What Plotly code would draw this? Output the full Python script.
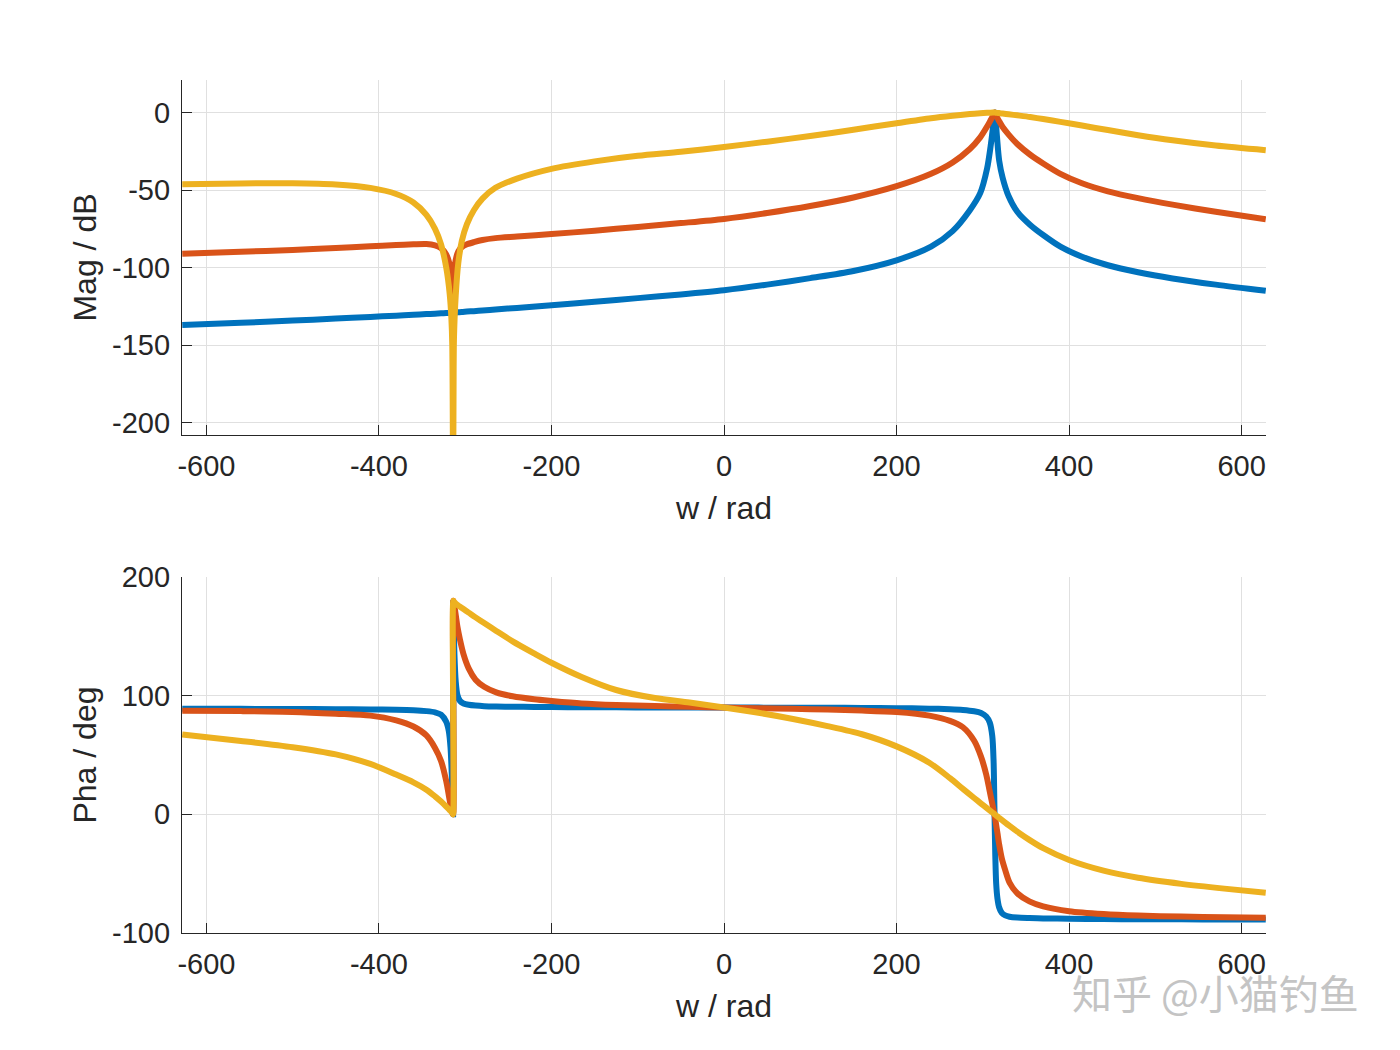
import plotly.graph_objs as go
from plotly.subplots import make_subplots

# frequency grid (rad) for the magnitude plot
w_mag = [-628, -560, -500, -450, -410, -380, -360, -345, -335, -328,
         -322, -318, -316, -315, -314, -313.4, -313, -311, -308, -304,
         -298, -290, -280, -265, -240, -200, -150, -100, -50, 0,
         50, 100, 150, 200, 240, 265, 285, 297, 305, 309,
         311.5, 313, 314, 315, 316.5, 319, 323, 330, 340, 355,
         370, 390, 415, 445, 480, 520, 570, 628]

mag_blue = [-137.0, -135.6, -134.2, -132.9, -131.8, -131.0, -130.4, -130.0, -129.7, -129.5,
            -129.3, -129.2, -129.1, -129.1, -129.0, -129.0, -129.0, -128.9, -128.8, -128.7,
            -128.4, -128.1, -127.7, -127.0, -126.0, -124.3, -122.0, -119.7, -117.3, -114.6,
            -111.0, -106.8, -102.2, -95.3, -86.5, -76.5, -63.0, -52.0, -36.0, -22.0,
            -11.0, -3.0, 0.0, -5.0, -16.0, -31.0, -42.0, -54.0, -64.0, -72.5,
            -79.0, -86.5, -93.0, -98.5, -103.0, -107.0, -111.0, -115.0]

mag_red = [-91.0, -89.8, -88.6, -87.4, -86.2, -85.5, -85.0, -84.8, -85.6, -87.5,
           -91.5, -98.0, -105.0, -112.0, -135.0, -112.0, -104.0, -95.0, -89.5, -86.8,
           -85.0, -83.6, -82.2, -81.0, -80.0, -78.4, -76.2, -73.8, -71.3, -68.6,
           -64.8, -60.3, -54.8, -47.5, -39.5, -32.2, -23.5, -16.0, -9.0, -5.0,
           -2.4, -0.8, 0.0, -1.2, -3.0, -5.6, -9.3, -14.2, -20.3, -27.2,
           -32.8, -39.5, -45.6, -50.8, -55.2, -59.4, -64.0, -68.8]

mag_yellow = [-46.3, -45.7, -45.6, -46.4, -48.6, -52.5, -58.0, -66.0, -75.0, -85.0,
              -100.0, -117.0, -133.0, -150.0, -240.0, -165.0, -145.0, -118.0, -97.0, -83.0,
              -72.0, -63.0, -55.5, -48.5, -42.6, -36.3, -31.5, -27.9, -25.3, -22.2,
              -18.8, -15.1, -11.1, -6.9, -3.7, -2.1, -1.0, -0.45, -0.15, -0.05,
              0.0, 0.0, 0.0, -0.1, -0.2, -0.35, -0.6, -1.1, -1.8, -2.9,
              -4.2, -6.0, -8.4, -11.3, -14.6, -17.9, -21.3, -24.3]

# frequency grid (rad) for the phase plot
w_pha = [-628, -560, -500, -450, -410, -380, -360, -345, -335, -328,
         -322, -319, -317, -315.5, -314.5, -314, -313.8, -313.3, -312.5, -311,
         -309, -306, -302, -296, -288, -278, -264, -245, -220, -200,
         -165, -125, -80, -40, 0, 40, 80, 120, 160, 200,
         238, 262, 277, 290, 298, 304, 308, 311, 312.5, 313.5,
         314.5, 315.5, 317, 319, 322, 326, 331, 340, 354, 370,
         400, 440, 480, 530, 580, 628]

pha_blue = [89.0, 88.9, 88.8, 88.6, 88.4, 88.1, 87.7, 87.0, 86.0, 84.0,
            78.0, 70.0, 56.0, 32.0, 10.0, 0.0, 178.0, 160.0, 135.0, 112.0,
            100.5, 95.5, 93.5, 92.4, 91.7, 91.2, 90.9, 90.7, 90.5, 90.4,
            90.3, 90.2, 90.1, 90.05, 90.0, 89.95, 89.9, 89.8, 89.7, 89.5,
            89.1, 88.6, 88.0, 86.9, 85.5, 82.5, 77.5, 66.0, 45.0, 5.0,
            -35.0, -58.0, -71.0, -78.5, -83.0, -85.2, -86.3, -87.0, -87.4, -87.7,
            -88.0, -88.2, -88.4, -88.5, -88.6, -88.6]

pha_red = [87.4, 87.0, 86.3, 84.8, 83.2, 79.2, 74.0, 66.5, 56.0, 45.0,
           28.0, 16.0, 8.0, 2.5, 0.6, 0.0, 180.0, 179.0, 175.5, 168.0,
           158.0, 147.0, 135.0, 123.0, 113.5, 107.5, 102.8, 99.5, 97.0, 95.6,
           93.5, 92.2, 91.3, 90.6, 90.0, 89.4, 88.9, 88.3, 87.5, 86.2,
           83.2, 78.8, 73.4, 62.0, 48.5, 33.5, 19.5, 9.0, 3.5, 0.0,
           -4.0, -9.0, -16.0, -25.5, -37.0, -47.0, -57.5, -66.5, -73.3, -77.5,
           -81.6, -84.0, -85.3, -86.2, -86.8, -87.2]

pha_yellow = [67.3, 61.9, 56.6, 50.5, 42.5, 33.5, 27.0, 20.8, 15.2, 10.8,
              6.5, 4.3, 2.8, 1.7, 0.7, 0.0, 180.0, 179.4, 178.7, 177.7,
              176.5, 175.0, 173.0, 170.0, 166.0, 161.2, 154.6, 145.8, 135.6, 127.8,
              115.8, 104.8, 98.0, 94.2, 90.0, 85.6, 80.4, 74.4, 67.5, 57.3,
              43.5, 30.5, 21.5, 13.8, 9.1, 5.6, 3.3, 1.6, 0.8, 0.2,
              -0.4, -1.0, -1.8, -3.0, -4.7, -7.0, -9.8, -14.6, -21.5, -28.5,
              -38.5, -47.5, -53.5, -58.6, -62.6, -66.0]

x_ticks = [-600, -400, -200, 0, 200, 400, 600]
mag_ticks = [-200, -150, -100, -50, 0]
pha_ticks = [-100, 0, 100, 200]

colors = ['#0072BD', '#D95319', '#EDB120']
font_family = 'Liberation Sans, Arial, sans-serif'
ink = '#262626'

fig = make_subplots(rows=2, cols=1)

for ys, c in zip([mag_blue, mag_red, mag_yellow], colors):
    fig.add_trace(go.Scatter(x=w_mag, y=ys, mode='lines',
                             line=dict(color=c, width=6, shape='spline', smoothing=0.8),
                             showlegend=False), row=1, col=1)

for ys, c in zip([pha_blue, pha_red, pha_yellow], colors):
    fig.add_trace(go.Scatter(x=w_pha, y=ys, mode='lines',
                             line=dict(color=c, width=6, shape='spline', smoothing=0.8),
                             showlegend=False), row=2, col=1)

axis_style = dict(
    showline=True, linecolor=ink, linewidth=1.3, mirror=False,
    ticks='inside', ticklen=10, tickwidth=1.3, tickcolor=ink,
    showgrid=True, gridcolor='#e0e0e0', gridwidth=1,
    zeroline=False,
    tickfont=dict(family=font_family, size=29, color=ink),
)
title_font = dict(family=font_family, size=32, color=ink)

# plain hyphen minus signs, as in the original figure
for r in [1, 2]:
    fig.update_xaxes(axis_style, row=r, col=1)
    fig.update_yaxes(axis_style, row=r, col=1)
    fig.update_xaxes(range=[-628.3, 628.3], tickvals=x_ticks,
                     ticktext=[str(v) for v in x_ticks],
                     ticklabelstandoff=5,
                     title=dict(text='w / rad', standoff=15, font=title_font),
                     row=r, col=1)

fig.update_yaxes(range=[-208, 21], tickvals=mag_ticks,
                 ticktext=[str(v) for v in mag_ticks], ticklabelstandoff=5,
                 title=dict(text='Mag / dB', standoff=5, font=title_font),
                 row=1, col=1)
fig.update_yaxes(range=[-100, 200], tickvals=pha_ticks,
                 ticktext=[str(v) for v in pha_ticks], ticklabelstandoff=5,
                 title=dict(text='Pha / deg', standoff=5, font=title_font),
                 row=2, col=1)

fig.update_layout(
    width=1400, height=1050,
    margin=dict(l=174, r=142, t=72, b=125),
    paper_bgcolor='white', plot_bgcolor='white',
    xaxis=dict(domain=[0, 1]),
    xaxis2=dict(domain=[0, 1]),
    yaxis=dict(domain=[0.5838, 1]),
    yaxis2=dict(domain=[0, 0.4173]),
)

# site watermark in the lower right corner
fig.add_annotation(text='知乎 @小猫钓鱼', xref='paper', yref='paper',
                   x=0.953, y=-0.069, xanchor='center', yanchor='middle',
                   showarrow=False,
                   font=dict(family='Noto Sans CJK SC', size=40, color='#c4c4c4'))

fig.write_html("out.html")
